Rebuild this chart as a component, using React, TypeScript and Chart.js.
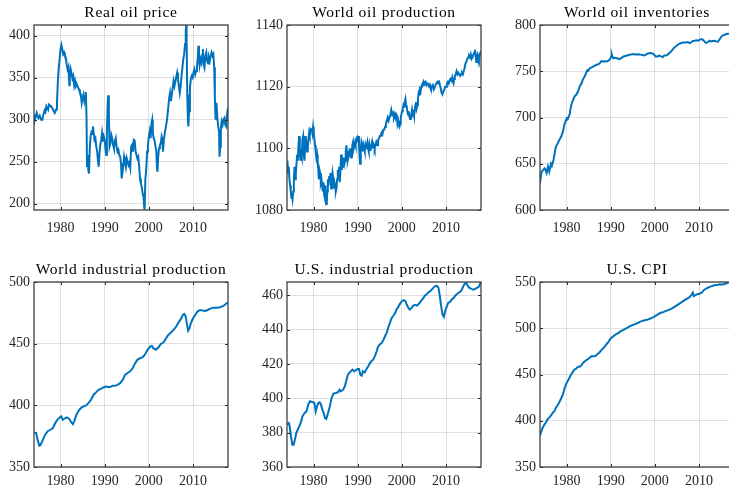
import React, { useEffect, useRef } from 'react';
import { Chart, registerables } from 'chart.js';

Chart.register(...registerables);

// ---------- data ----------
const xTicks = [1980, 1990, 2000, 2010];
const xMin = 1974;
const xMax = 2017.92;

const titles = [
  'Real oil price',
  'World oil production',
  'World oil inventories',
  'World industrial production',
  'U.S. industrial production',
  'U.S. CPI',
];

const oilPriceTicks = [200, 250, 300, 350, 400];
const oilProdTicks = [1080, 1100, 1120, 1140];
const inventoryTicks = [600, 650, 700, 750, 800];
const worldIpTicks = [350, 400, 450, 500];
const usIpTicks = [360, 380, 400, 420, 440, 460];
const cpiTicks = [350, 400, 450, 500, 550];

const yLimits: [number, number][] = [
  [192.5, 412.7],
  [1080, 1140],
  [600, 800],
  [350, 500],
  [360, 467.7],
  [350, 550],
];

const realOilPrice: [number, number][] = [
  [1974.0, 306], [1974.2, 300], [1974.4, 304], [1974.6, 308], [1974.8, 304], [1975.0, 302], [1975.3, 305], [1975.6, 300],
  [1975.9, 300], [1976.1, 306], [1976.4, 311], [1976.6, 309], [1976.8, 316], [1977.0, 314], [1977.2, 312], [1977.4, 318],
  [1977.6, 317], [1977.9, 316], [1978.2, 313], [1978.5, 310], [1978.7, 308], [1979.0, 312], [1979.2, 320], [1979.4, 345],
  [1979.6, 362], [1979.8, 372], [1980.0, 384], [1980.2, 389], [1980.4, 384], [1980.6, 378], [1980.8, 380], [1981.0, 376],
  [1981.2, 374], [1981.4, 366], [1981.6, 360], [1981.8, 363], [1982.0, 341], [1982.1, 352], [1982.3, 360], [1982.5, 355],
  [1982.7, 349], [1982.9, 352], [1983.1, 341], [1983.3, 346], [1983.5, 340], [1983.7, 342], [1984.0, 338], [1984.2, 336],
  [1984.4, 332], [1984.6, 330], [1984.8, 320], [1985.0, 326], [1985.2, 330], [1985.4, 322], [1985.6, 328], [1985.75, 333],
  [1985.9, 300], [1986.0, 245], [1986.15, 258], [1986.3, 240], [1986.45, 236], [1986.6, 262], [1986.8, 280], [1987.0, 285],
  [1987.2, 283], [1987.35, 292], [1987.5, 285], [1987.7, 276], [1987.9, 278], [1988.1, 268], [1988.3, 262], [1988.5, 250],
  [1988.65, 244], [1988.8, 258], [1989.0, 270], [1989.2, 275], [1989.4, 284], [1989.6, 274], [1989.8, 280], [1990.0, 276],
  [1990.2, 265], [1990.35, 258], [1990.5, 285], [1990.7, 322], [1990.8, 329], [1990.95, 305], [1991.1, 268], [1991.3, 272],
  [1991.5, 282], [1991.7, 278], [1991.9, 270], [1992.1, 266], [1992.3, 274], [1992.5, 278], [1992.7, 268], [1992.9, 262],
  [1993.1, 264], [1993.3, 258], [1993.5, 256], [1993.7, 248], [1993.85, 230], [1994.0, 236], [1994.2, 244], [1994.4, 256],
  [1994.6, 250], [1994.8, 244], [1995.0, 254], [1995.2, 250], [1995.4, 246], [1995.6, 249], [1995.8, 243], [1996.0, 268],
  [1996.2, 270], [1996.4, 262], [1996.6, 276], [1996.8, 275], [1997.0, 262], [1997.2, 258], [1997.4, 254], [1997.6, 256],
  [1997.8, 245], [1998.0, 230], [1998.2, 224], [1998.4, 220], [1998.6, 212], [1998.8, 208], [1998.95, 196], [1999.05, 193],
  [1999.2, 228], [1999.4, 240], [1999.6, 262], [1999.8, 270], [2000.0, 280], [2000.2, 286], [2000.4, 278], [2000.6, 296],
  [2000.75, 300], [2000.9, 284], [2001.1, 278], [2001.3, 275], [2001.5, 268], [2001.7, 262], [2001.85, 242], [2001.95, 238],
  [2002.1, 255], [2002.3, 266], [2002.5, 270], [2002.7, 272], [2002.9, 280], [2003.0, 278], [2003.2, 262], [2003.4, 276],
  [2003.6, 284], [2003.8, 290], [2004.0, 296], [2004.2, 304], [2004.4, 315], [2004.6, 326], [2004.8, 332], [2005.0, 322],
  [2005.2, 330], [2005.4, 338], [2005.6, 346], [2005.8, 340], [2006.0, 345], [2006.2, 351], [2006.4, 356], [2006.6, 348],
  [2006.8, 340], [2007.0, 332], [2007.2, 340], [2007.4, 352], [2007.6, 362], [2007.8, 372], [2008.0, 378], [2008.2, 390],
  [2008.35, 404], [2008.45, 414], [2008.55, 396], [2008.7, 330], [2008.85, 300], [2008.95, 292], [2009.1, 310], [2009.3, 338],
  [2009.5, 348], [2009.7, 352], [2009.9, 350], [2010.1, 356], [2010.3, 360], [2010.5, 354], [2010.7, 358], [2010.9, 362],
  [2011.1, 375], [2011.2, 388], [2011.35, 375], [2011.5, 365], [2011.7, 372], [2011.9, 368], [2012.1, 378], [2012.25, 384],
  [2012.4, 366], [2012.6, 362], [2012.8, 376], [2013.0, 380], [2013.2, 370], [2013.4, 367], [2013.6, 374], [2013.8, 370],
  [2014.0, 376], [2014.2, 380], [2014.4, 376], [2014.6, 378], [2014.8, 362], [2014.95, 325], [2015.1, 300], [2015.3, 320],
  [2015.5, 302], [2015.7, 292], [2015.9, 285], [2016.0, 256], [2016.15, 268], [2016.3, 290], [2016.5, 298], [2016.7, 294],
  [2016.9, 300], [2017.1, 302], [2017.3, 294], [2017.5, 292], [2017.7, 306], [2017.92, 314],
];

const worldOilProduction: [number, number][] = [
  [1974.0, 1093], [1974.1, 1096], [1974.25, 1092], [1974.4, 1094], [1974.55, 1090], [1974.7, 1088], [1974.85, 1086], [1975.0, 1084],
  [1975.1, 1085], [1975.25, 1083.5], [1975.4, 1086], [1975.55, 1089], [1975.7, 1094], [1975.85, 1090], [1976.0, 1092], [1976.15, 1095],
  [1976.3, 1098], [1976.45, 1096], [1976.6, 1101], [1976.75, 1104], [1976.9, 1099], [1977.05, 1096], [1977.2, 1098], [1977.35, 1097],
  [1977.5, 1103], [1977.65, 1104], [1977.8, 1098], [1977.95, 1096], [1978.1, 1100], [1978.25, 1104], [1978.4, 1101], [1978.55, 1099],
  [1978.7, 1100], [1978.85, 1103], [1979.0, 1105], [1979.15, 1104], [1979.3, 1106], [1979.45, 1105.5], [1979.6, 1106.5], [1979.75, 1105],
  [1979.9, 1107], [1980.05, 1105], [1980.2, 1103], [1980.35, 1101], [1980.5, 1099], [1980.65, 1097], [1980.8, 1098], [1980.95, 1095],
  [1981.1, 1093], [1981.2, 1090], [1981.35, 1093], [1981.5, 1092], [1981.65, 1089], [1981.8, 1090], [1981.95, 1088], [1982.1, 1086],
  [1982.25, 1089], [1982.4, 1085], [1982.55, 1084], [1982.7, 1088], [1982.85, 1083], [1983.0, 1081.6], [1983.1, 1086], [1983.25, 1090],
  [1983.4, 1088], [1983.55, 1091], [1983.7, 1089], [1983.85, 1092], [1984.0, 1087], [1984.15, 1090], [1984.3, 1092], [1984.45, 1090],
  [1984.6, 1087], [1984.75, 1089], [1984.9, 1088], [1985.05, 1086], [1985.2, 1087], [1985.35, 1090], [1985.5, 1093], [1985.65, 1091],
  [1985.8, 1094], [1985.95, 1089], [1986.1, 1093], [1986.25, 1098], [1986.4, 1093], [1986.55, 1095], [1986.7, 1094], [1986.85, 1097],
  [1987.0, 1095], [1987.15, 1096], [1987.3, 1099], [1987.45, 1101], [1987.6, 1098], [1987.75, 1096], [1987.9, 1097], [1988.05, 1099],
  [1988.2, 1100], [1988.35, 1098], [1988.5, 1097], [1988.65, 1099], [1988.8, 1101], [1988.95, 1102], [1989.1, 1100], [1989.25, 1101],
  [1989.4, 1102], [1989.55, 1101], [1989.7, 1103], [1989.85, 1103.5], [1990.0, 1102], [1990.15, 1104], [1990.3, 1101], [1990.45, 1097],
  [1990.55, 1095], [1990.7, 1100], [1990.85, 1102], [1991.0, 1101], [1991.15, 1099], [1991.3, 1101], [1991.45, 1100], [1991.6, 1099],
  [1991.75, 1101], [1991.9, 1100], [1992.05, 1101], [1992.2, 1102], [1992.35, 1100], [1992.5, 1099], [1992.65, 1101], [1992.8, 1099.5],
  [1992.95, 1100], [1993.1, 1101], [1993.25, 1102], [1993.4, 1100], [1993.55, 1101.5], [1993.7, 1101], [1993.85, 1100], [1994.0, 1101],
  [1994.2, 1102], [1994.4, 1101], [1994.6, 1102.5], [1994.8, 1103], [1995.0, 1104], [1995.2, 1104], [1995.4, 1105], [1995.6, 1104.5],
  [1995.8, 1106], [1996.0, 1106], [1996.2, 1107], [1996.4, 1108], [1996.6, 1109], [1996.8, 1110], [1997.0, 1109], [1997.2, 1110],
  [1997.4, 1111], [1997.6, 1112.5], [1997.8, 1111], [1998.0, 1111.5], [1998.2, 1110], [1998.4, 1111], [1998.55, 1110], [1998.7, 1111],
  [1998.85, 1110.5], [1999.0, 1108], [1999.15, 1109], [1999.3, 1107.5], [1999.45, 1107], [1999.6, 1108], [1999.75, 1110], [1999.9, 1111],
  [2000.05, 1112], [2000.2, 1113], [2000.35, 1114], [2000.5, 1113.5], [2000.65, 1115], [2000.8, 1116], [2000.95, 1114], [2001.1, 1113.5],
  [2001.25, 1112], [2001.4, 1111], [2001.55, 1112], [2001.7, 1110.5], [2001.85, 1109.5], [2002.0, 1110], [2002.15, 1111], [2002.3, 1112.5],
  [2002.45, 1111], [2002.6, 1111.5], [2002.75, 1110.5], [2002.9, 1112], [2003.05, 1114], [2003.2, 1115], [2003.35, 1113], [2003.5, 1114],
  [2003.65, 1116], [2003.8, 1118], [2003.95, 1117.5], [2004.1, 1119], [2004.25, 1118.5], [2004.4, 1120], [2004.55, 1120.5], [2004.7, 1121],
  [2004.85, 1120.5], [2005.0, 1121.5], [2005.2, 1121], [2005.4, 1121.5], [2005.6, 1120.5], [2005.8, 1121], [2006.0, 1121], [2006.2, 1120],
  [2006.4, 1120.5], [2006.6, 1119.5], [2006.8, 1120], [2007.0, 1120.5], [2007.2, 1119], [2007.4, 1119.5], [2007.6, 1120.5], [2007.8, 1121],
  [2008.0, 1121.5], [2008.2, 1121], [2008.4, 1122], [2008.6, 1120.5], [2008.8, 1119.5], [2009.0, 1118], [2009.2, 1117.5], [2009.4, 1118.5],
  [2009.6, 1119], [2009.8, 1120], [2010.0, 1120], [2010.2, 1121], [2010.4, 1121.5], [2010.6, 1121], [2010.8, 1122], [2011.0, 1122.5],
  [2011.2, 1122], [2011.4, 1123], [2011.55, 1121.5], [2011.7, 1121], [2011.85, 1122.5], [2012.0, 1123.5], [2012.2, 1124], [2012.4, 1125],
  [2012.6, 1124], [2012.8, 1124.5], [2013.0, 1124], [2013.2, 1123.5], [2013.4, 1124], [2013.6, 1124.5], [2013.8, 1124], [2014.0, 1125],
  [2014.2, 1126], [2014.4, 1127.5], [2014.6, 1128], [2014.8, 1129], [2015.0, 1129.5], [2015.2, 1130], [2015.4, 1129.5], [2015.6, 1130.5],
  [2015.8, 1129], [2016.0, 1129.5], [2016.2, 1130.5], [2016.4, 1131], [2016.55, 1132], [2016.7, 1130], [2016.85, 1128], [2017.0, 1129],
  [2017.15, 1130.5], [2017.3, 1130], [2017.45, 1129], [2017.6, 1130], [2017.75, 1131], [2017.92, 1131.5],
];

const worldOilInventories: [number, number][] = [
  [1974.0, 629], [1974.3, 640], [1974.5, 642], [1974.7, 643], [1975.0, 645], [1975.2, 644], [1975.5, 640], [1975.8, 647],
  [1976.1, 641.5], [1976.3, 646], [1976.5, 650.5], [1976.7, 649], [1976.9, 651], [1977.1, 655], [1977.3, 661], [1977.6, 668.6],
  [1978.0, 672], [1978.4, 676], [1978.8, 679.4], [1979.2, 685], [1979.5, 692], [1979.9, 697.5], [1980.1, 699], [1980.3, 698.5],
  [1980.5, 701], [1980.7, 703], [1980.9, 709], [1981.1, 713.7], [1981.3, 717], [1981.5, 719], [1981.8, 722.7], [1982.2, 724.5],
  [1982.6, 728], [1983.0, 733.6], [1983.4, 737], [1983.7, 741], [1984.1, 744.4], [1984.5, 748.7], [1984.7, 751], [1984.9, 750.5],
  [1985.3, 753.4], [1985.6, 754], [1986.0, 755], [1986.4, 756], [1986.8, 757], [1987.2, 757.5], [1987.6, 759], [1987.9, 761],
  [1988.3, 760.6], [1988.7, 760.8], [1989.1, 760.6], [1989.5, 761.5], [1989.9, 763.5], [1990.1, 766], [1990.25, 768.5], [1990.4, 766],
  [1990.6, 764], [1991.0, 764.5], [1991.4, 764], [1991.8, 763.5], [1992.1, 763], [1992.5, 764.5], [1992.9, 766], [1993.3, 766.5],
  [1993.7, 767], [1994.1, 767.5], [1994.5, 768], [1994.9, 768.3], [1995.2, 768.6], [1995.6, 768.2], [1996.0, 768], [1996.4, 768.4],
  [1996.8, 768], [1997.2, 767.5], [1997.6, 767], [1998.0, 768], [1998.3, 769], [1998.7, 769.5], [1999.1, 769.7], [1999.5, 769],
  [1999.8, 768], [2000.2, 766], [2000.6, 766], [2001.0, 767], [2001.4, 766], [2001.8, 765.3], [2002.1, 767], [2002.5, 767],
  [2002.9, 768], [2003.3, 769.7], [2003.7, 771.5], [2004.1, 774], [2004.4, 775.8], [2004.8, 777], [2005.2, 778.7], [2005.6, 779.8],
  [2006.0, 780.5], [2006.4, 781], [2006.7, 781.2], [2007.1, 781], [2007.5, 781.6], [2007.9, 780.5], [2008.3, 781.6], [2008.6, 782.7],
  [2009.0, 783], [2009.4, 783.4], [2009.8, 783], [2010.1, 784], [2010.5, 784.8], [2010.9, 784], [2011.2, 782.3], [2011.6, 780.5],
  [2012.0, 781.6], [2012.4, 783], [2012.7, 782.3], [2013.1, 782.7], [2013.5, 783], [2013.9, 782.3], [2014.3, 782], [2014.6, 784],
  [2015.0, 787], [2015.4, 788.8], [2015.8, 789.5], [2016.1, 790], [2016.5, 790.6], [2016.9, 790.6], [2017.2, 791.3], [2017.6, 791.8],
  [2017.92, 792.3],
];

const worldIndustrialProduction: [number, number][] = [
  [1974.0, 378], [1974.5, 377.5], [1974.8, 372], [1975.2, 367.3], [1975.5, 368], [1976.0, 372], [1976.5, 376], [1977.1, 379],
  [1977.7, 380.2], [1978.3, 381.6], [1978.8, 385.6], [1979.3, 388.3], [1979.9, 390.5], [1980.2, 391], [1980.5, 388.3], [1981.1, 389.7],
  [1981.4, 390.2], [1982.0, 389], [1982.3, 387], [1982.8, 384.8], [1983.1, 387], [1983.6, 392.4], [1984.1, 395.6], [1984.6, 397.8],
  [1985.2, 399.1], [1985.8, 400], [1986.3, 401.8], [1986.9, 404.5], [1987.5, 408.6], [1988.1, 410.7], [1988.6, 412.6], [1989.1, 413.4],
  [1989.7, 414.5], [1990.3, 415.3], [1990.8, 414.8], [1991.2, 414.8], [1991.8, 415.8], [1992.3, 415.8], [1992.9, 416.6], [1993.5, 418],
  [1994.1, 420.7], [1994.6, 424.7], [1995.1, 426], [1995.7, 427.4], [1996.3, 430], [1996.9, 434.2], [1997.4, 436.9], [1998.0, 438.2],
  [1998.6, 439], [1999.1, 441], [1999.7, 445], [2000.3, 447.7], [2000.7, 448.2], [2001.0, 446.3], [2001.6, 445], [2002.2, 447.1],
  [2002.7, 449.8], [2003.3, 450.9], [2003.9, 454.4], [2004.4, 457.1], [2005.0, 459], [2005.6, 461.2], [2006.2, 463.9], [2006.7, 467.1],
  [2007.3, 470.3], [2007.7, 473.3], [2008.0, 474.1], [2008.3, 472.5], [2008.6, 466.5], [2008.9, 460.6], [2009.2, 462.5], [2009.5, 466.5],
  [2010.0, 470.6], [2010.5, 473.3], [2011.0, 476], [2011.6, 477.3], [2012.2, 476.8], [2012.8, 476.5], [2013.3, 477.3], [2013.9, 478.4],
  [2014.6, 479.2], [2015.4, 479.2], [2016.1, 479.5], [2016.9, 480.6], [2017.4, 482.2], [2017.92, 483.5],
];

const usIndustrialProduction: [number, number][] = [
  [1974.0, 384.7], [1974.4, 385.6], [1974.6, 383.7], [1974.9, 377.9], [1975.2, 373], [1975.5, 373], [1975.8, 376], [1976.1, 379.8],
  [1976.6, 382.7], [1977.1, 385.6], [1977.5, 389.5], [1978.0, 391.5], [1978.4, 392.4], [1978.8, 396.3], [1979.2, 398.3], [1979.5, 398],
  [1979.9, 397.7], [1980.2, 397.3], [1980.5, 392.4], [1980.8, 395.3], [1981.1, 397.3], [1981.4, 397.7], [1981.7, 396.3], [1982.0, 393.4],
  [1982.3, 391.5], [1982.6, 388.5], [1982.9, 388], [1983.3, 391.5], [1983.7, 395.3], [1984.1, 400.2], [1984.5, 402.7], [1985.1, 403.1],
  [1985.6, 403.7], [1985.9, 405], [1986.2, 404], [1986.7, 405], [1987.1, 407], [1987.5, 410.9], [1987.8, 413.8], [1988.2, 415.1],
  [1988.8, 416.7], [1989.2, 415.7], [1989.5, 416.3], [1990.0, 417.1], [1990.3, 417.1], [1990.6, 413.8], [1990.9, 413.2], [1991.2, 415.7],
  [1991.6, 415.1], [1992.0, 417.1], [1992.4, 418.6], [1992.7, 420.2], [1993.1, 421.6], [1993.5, 422.5], [1993.9, 424.5], [1994.3, 427.4],
  [1994.6, 429.9], [1995.0, 431.3], [1995.4, 432.2], [1995.8, 433.8], [1996.2, 436.1], [1996.6, 438.4], [1996.9, 441], [1997.3, 443.9],
  [1997.7, 446.8], [1998.1, 448.2], [1998.5, 449.7], [1998.8, 451.7], [1999.2, 453.2], [1999.6, 455.1], [2000.0, 456.5], [2000.4, 457.1],
  [2000.8, 456.5], [2001.1, 454.6], [2001.5, 452.6], [2001.8, 451.7], [2002.2, 452.6], [2002.6, 454], [2003.0, 454.4], [2003.4, 454],
  [2003.7, 454.6], [2004.1, 455.9], [2004.5, 457.1], [2004.9, 458.4], [2005.2, 459.8], [2005.6, 460.4], [2006.0, 461.7], [2006.4, 462.3],
  [2006.8, 463.3], [2007.1, 464.3], [2007.5, 465.2], [2007.9, 465.6], [2008.3, 464.3], [2008.6, 459.4], [2008.9, 453.6], [2009.2, 448.7],
  [2009.5, 447.4], [2009.8, 450.7], [2010.2, 453.6], [2010.5, 455.5], [2010.9, 456.1], [2011.3, 457.5], [2011.7, 458.4], [2012.1, 459.8],
  [2012.4, 460.4], [2012.8, 461.4], [2013.2, 461.9], [2013.6, 463.3], [2013.9, 465.2], [2014.3, 466.8], [2014.6, 467.2], [2014.9, 465.6],
  [2015.3, 464.3], [2015.8, 463.7], [2016.2, 463.3], [2016.6, 463.7], [2017.0, 464.3], [2017.4, 464.9], [2017.8, 467.2], [2017.92, 467.7],
];

const usCpi: [number, number][] = [
  [1974.0, 384], [1974.3, 388.8], [1974.6, 392.4], [1975.0, 396], [1975.3, 397.8], [1975.7, 401.4], [1976.1, 403.3], [1976.5, 405.8],
  [1976.9, 408.7], [1977.3, 410.5], [1977.6, 414.1], [1978.0, 417], [1978.4, 420.3], [1978.8, 424.3], [1979.2, 428.6], [1979.5, 434.1],
  [1979.9, 439.5], [1980.3, 443.1], [1980.7, 446.7], [1981.1, 450.4], [1981.5, 453.3], [1981.8, 455.1], [1982.2, 456.5], [1982.6, 458.3],
  [1983.0, 458.3], [1983.4, 460.1], [1983.7, 462.3], [1984.1, 464.1], [1984.5, 465.6], [1984.9, 466.7], [1985.3, 468.5], [1985.6, 469.6],
  [1986.0, 469.6], [1986.4, 469.6], [1986.8, 471], [1987.2, 472.8], [1987.6, 474.6], [1987.9, 476.4], [1988.3, 478.3], [1988.7, 480.4],
  [1989.1, 483], [1989.5, 485.1], [1989.8, 487.7], [1990.2, 489.9], [1990.6, 491.3], [1991.0, 492.8], [1991.4, 493.8], [1991.8, 494.9],
  [1992.1, 496.4], [1992.9, 498.2], [1993.7, 500.4], [1994.4, 502.2], [1995.2, 504], [1996.0, 505.4], [1996.7, 507.2], [1997.5, 508.3],
  [1998.2, 509.1], [1999.0, 510.5], [1999.8, 512.3], [2000.5, 514.5], [2001.3, 516.7], [2001.9, 517.4], [2002.4, 518.5], [2003.2, 519.9],
  [2004.0, 521.7], [2004.7, 523.9], [2005.5, 526.4], [2006.3, 529], [2007.0, 531.2], [2007.8, 533.3], [2008.3, 536.2], [2008.6, 538.4],
  [2008.8, 534.8], [2009.1, 535.5], [2009.5, 536.6], [2010.1, 537.3], [2010.6, 538.4], [2011.2, 541.7], [2012.0, 543.8], [2012.7, 545.3],
  [2013.5, 546.4], [2014.3, 547.1], [2014.7, 547.5], [2015.0, 547.1], [2015.8, 547.8], [2016.6, 549.3], [2017.2, 550.7], [2017.92, 552.5],
];

const seriesList = [realOilPrice, worldOilProduction, worldOilInventories, worldIndustrialProduction, usIndustrialProduction, usCpi];
const yTickList = [oilPriceTicks, oilProdTicks, inventoryTicks, worldIpTicks, usIpTicks, cpiTicks];

// ---------- layout ----------
const CANVAS_W = 238;
const CANVAS_H = 240;
const Y_AXIS_W = 34;
const X_AXIS_H = 30;
const cellPositions = [
  { left: 0, top: 0, xPad: 10 },
  { left: 253, top: 0, xPad: 10 },
  { left: 506, top: 0, xPad: 10 },
  { left: 0, top: 257, xPad: 6 },
  { left: 253, top: 257, xPad: 6 },
  { left: 506, top: 257, xPad: 6 },
];

const LINE_COLOR = '#0072BD';
const TEXT_COLOR = '#262626';
const GRID_COLOR = 'rgba(38,38,38,0.15)';
const FONT_FAMILY = '"Liberation Serif", "Times New Roman", serif';

function makeFramePlugin(title: string, yTicks: number[]) {
  return {
    id: 'matlabFrame',
    afterDraw(chart: any) {
      const { ctx, chartArea: a, scales } = chart;
      ctx.save();
      const tl = 3;
      ctx.strokeStyle = TEXT_COLOR;
      ctx.lineWidth = 1;
      ctx.beginPath();
      for (const t of xTicks) {
        const px = Math.round(scales.x.getPixelForValue(t)) + 0.5;
        ctx.moveTo(px, a.bottom);
        ctx.lineTo(px, a.bottom - tl);
        ctx.moveTo(px, a.top);
        ctx.lineTo(px, a.top + tl);
      }
      for (const t of yTicks) {
        const py = Math.round(scales.y.getPixelForValue(t)) + 0.5;
        ctx.moveTo(a.left, py);
        ctx.lineTo(a.left + tl, py);
        ctx.moveTo(a.right, py);
        ctx.lineTo(a.right - tl, py);
      }
      ctx.stroke();
      ctx.strokeStyle = '#404040';
      ctx.lineWidth = 1.3;
      ctx.strokeRect(a.left, a.top, a.right - a.left, a.bottom - a.top);
      ctx.fillStyle = '#000';
      ctx.font = `15.5px ${FONT_FAMILY}`;
      (ctx as any).letterSpacing = '0.7px';
      ctx.textAlign = 'center';
      ctx.textBaseline = 'alphabetic';
      ctx.fillText(title, (a.left + a.right) / 2, a.top - 8);
      ctx.restore();
    },
  };
}

export default function App() {
  const refs = useRef<(HTMLCanvasElement | null)[]>([]);

  useEffect(() => {
    const charts: Chart[] = [];
    seriesList.forEach((series, i) => {
      const canvas = refs.current[i];
      if (!canvas) return;
      const yTicks = yTickList[i];
      const [yMin, yMax] = yLimits[i];
      const chart = new Chart(canvas, {
        type: 'line',
        data: {
          datasets: [
            {
              data: series.map(([x, y]) => ({ x, y })),
              borderColor: LINE_COLOR,
              borderWidth: 2,
              pointRadius: 0,
              tension: 0,
              fill: false,
            },
          ],
        },
        options: {
          animation: false,
          responsive: false,
          events: [],
          layout: { padding: { top: 25, right: 10, left: 0, bottom: 0 } },
          plugins: {
            legend: { display: false },
            tooltip: { enabled: false },
            title: { display: false },
          },
          scales: {
            x: {
              type: 'linear',
              min: xMin,
              max: xMax,
              afterBuildTicks: (s: any) => {
                s.ticks = xTicks.map((v) => ({ value: v }));
              },
              afterFit: (s: any) => {
                s.height = X_AXIS_H;
              },
              grid: { color: GRID_COLOR, lineWidth: 1, drawTicks: false },
              border: { display: false },
              ticks: {
                autoSkip: false,
                maxRotation: 0,
                padding: cellPositions[i].xPad,
                color: TEXT_COLOR,
                font: { family: FONT_FAMILY, size: 14 },
                callback: (v: any) => String(v),
              },
            },
            y: {
              type: 'linear',
              min: yMin,
              max: yMax,
              afterBuildTicks: (s: any) => {
                s.ticks = yTicks.map((v) => ({ value: v }));
              },
              afterFit: (s: any) => {
                s.width = Y_AXIS_W;
              },
              grid: { color: GRID_COLOR, lineWidth: 1, drawTicks: false },
              border: { display: false },
              ticks: {
                autoSkip: false,
                padding: 4,
                color: TEXT_COLOR,
                font: { family: FONT_FAMILY, size: 14 },
                callback: (v: any) => String(v),
              },
            },
          },
        } as any,
        plugins: [makeFramePlugin(titles[i], yTicks)],
      });
      charts.push(chart);
    });
    return () => {
      charts.forEach((c) => c.destroy());
    };
  }, []);

  return (
    <div
      style={{
        position: 'absolute',
        left: 0,
        top: 0,
        width: 729,
        height: 486,
        overflow: 'hidden',
        background: '#fff',
      }}
    >
      {cellPositions.map((p, i) => (
        <canvas
          key={i}
          ref={(el) => {
            refs.current[i] = el;
          }}
          width={CANVAS_W}
          height={CANVAS_H}
          style={{ position: 'absolute', left: p.left, top: p.top, display: 'block', width: CANVAS_W, height: CANVAS_H }}
        />
      ))}
    </div>
  );
}
